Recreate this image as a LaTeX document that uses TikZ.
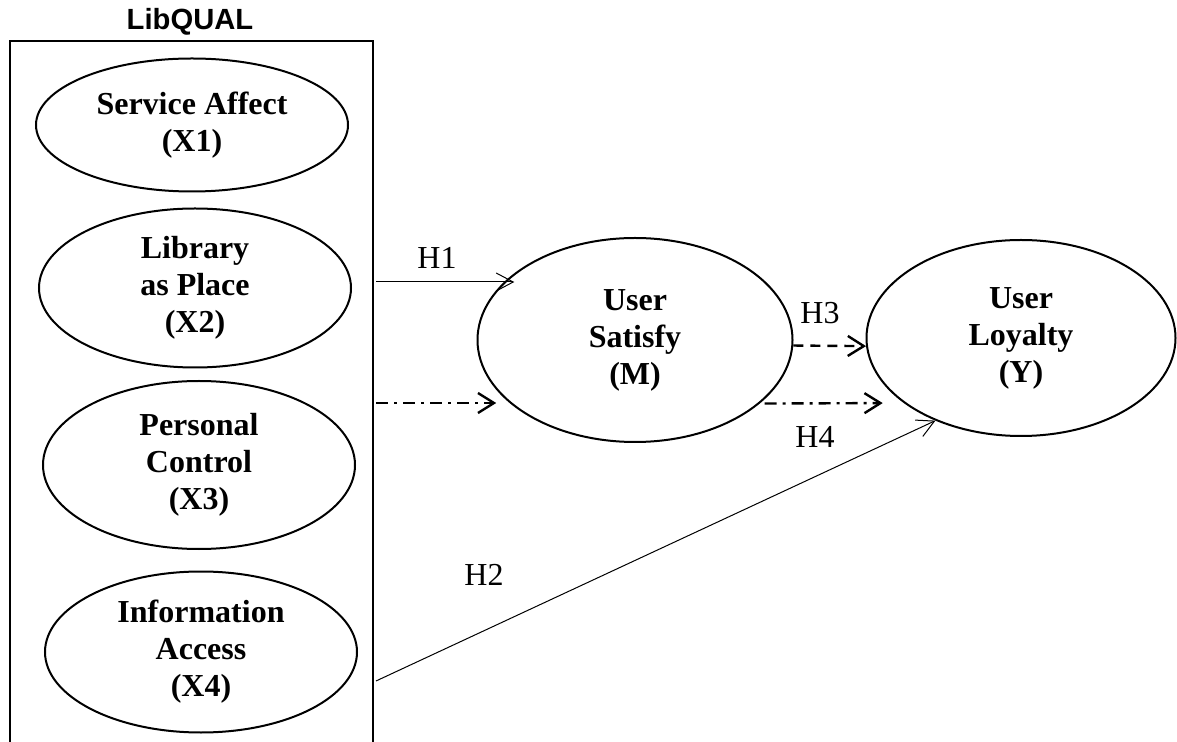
\documentclass[tikz,border=0pt]{standalone}
\usepackage{fontspec}
\setmainfont{Liberation Serif}
\newfontfamily\arialfont{Liberation Sans}
\usetikzlibrary{
  shapes.geometric,
  arrows.meta
}
\tikzset{latent/.style={
  ellipse,
  draw, line width=1pt,
  inner sep=0pt,
  align=center,
  font=\fontsize{16}{18.5}\selectfont\bfseries
}}
\tikzset{hlabel/.style={inner sep=0pt,font=\fontsize{16}{18.5}\selectfont}}
\tikzset{direct/.style={line width=0.5pt,-{Straight Barb[length=8.5pt,width=9pt]}}}
\tikzset{mediated/.style={line width=1.2pt,-{Straight Barb[length=8pt,width=10pt]}}}
\tikzset{dashdot/.style={dash pattern=on 6pt off 3pt on 1.5pt off 3pt}}

\begin{document}
\begin{tikzpicture}[x=0.5pt,y=-0.5pt]
    \useasboundingbox (0,0) rectangle (1177,742);
    \node (title) [font=\arialfont\bfseries\fontsize{14.6}{16}\selectfont] at (190,22) {LibQUAL};
    \draw [line width=1pt] (10,742) -- (10,41) -- (373,41) -- (373,742);
    \node (x1) [latent,minimum width=156pt,minimum height=66.5pt] at (192,125) {Service Affect\\(X1)};
    \node (x2) [latent,minimum width=156pt,minimum height=79.5pt] at (195,288) {Library\\as Place\\(X2)};
    \node (x3) [latent,minimum width=156pt,minimum height=84pt] at (199,465) {Personal\\Control\\(X3)};
    \node (x4) [latent,minimum width=156pt,minimum height=80.5pt] at (201,652) {Information\\Access\\(X4)};
    \node (m) [latent,minimum width=157.5pt,minimum height=102pt] at (635,340) {User\\Satisfy\\(M)};
    \node (y) [latent,minimum width=154.5pt,minimum height=98pt] at (1021,338) {User\\Loyalty\\(Y)};
    \coordinate (libH1) at (376,282);
    \coordinate (libInd) at (376,403);
    \coordinate (libH2) at (376,681);
    \draw [direct,shorten >=-5pt] (libH1) -- (libH1 -| m.156);
    \draw [mediated,dashdot,shorten >=6pt] (libInd) -- (libInd -| m.206);
    \draw [mediated,dash pattern=on 5pt off 3.5pt] (m.-2) -- (y.183);
    \draw [mediated,dashdot,shorten <=2.5pt,shorten >=10.5pt] (m.-27.3) -- (y.209.7);
    \draw [direct] (libH2) -- (y.224.7);
    \node (h1) [hlabel] at (437,258) {H1};
    \node (h2) [hlabel] at (484,575) {H2};
    \node (h3) [hlabel] at (820,313) {H3};
    \node (h4) [hlabel] at (815,437) {H4};
  \end{tikzpicture}
\end{document}
